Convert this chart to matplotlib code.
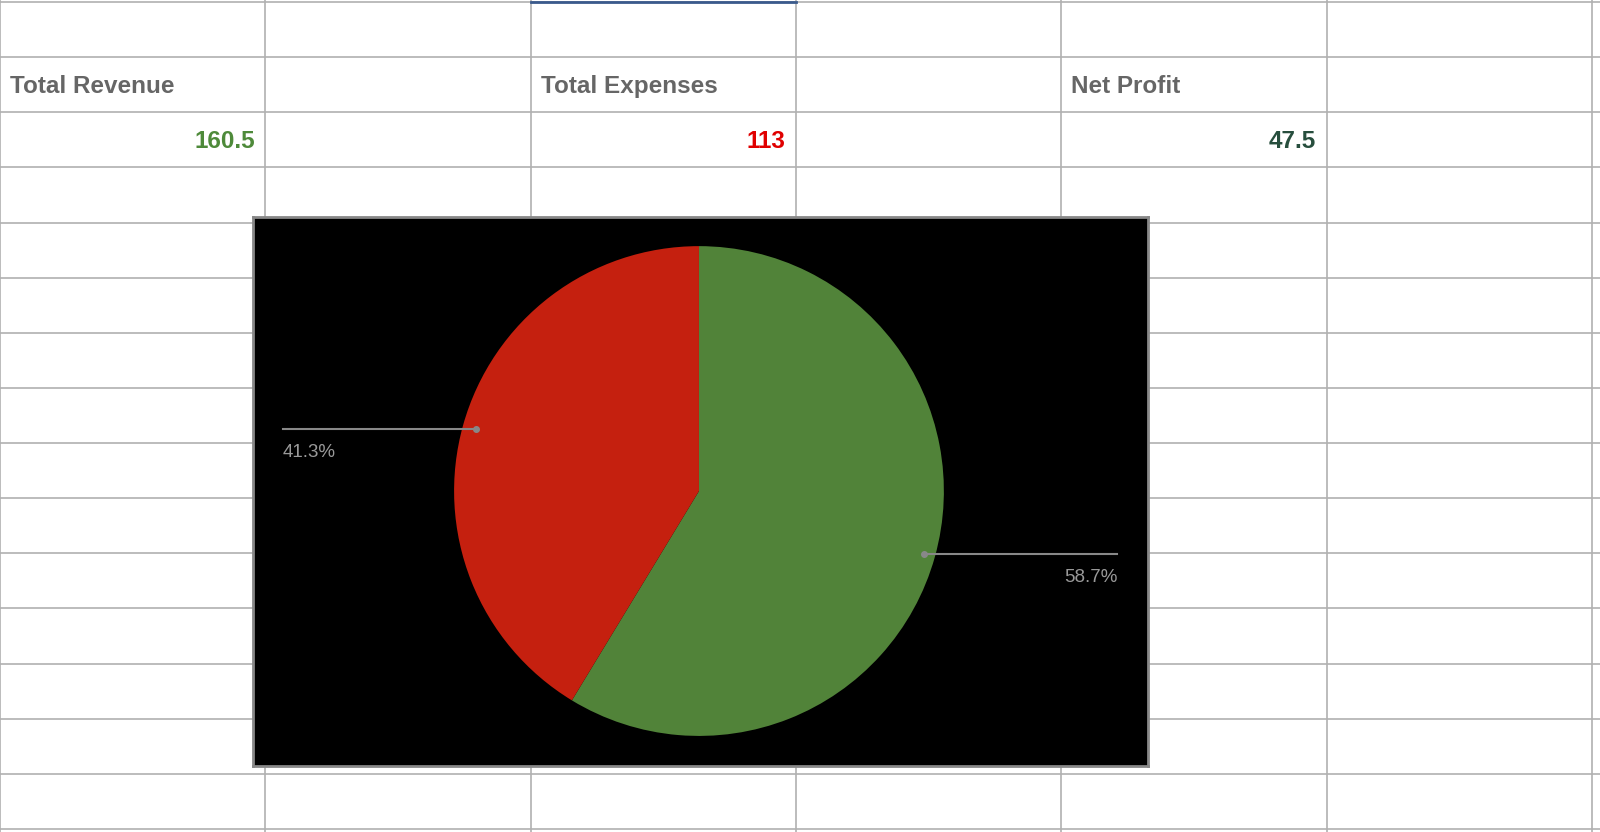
import matplotlib
matplotlib.use("Agg")
import matplotlib.pyplot as plt

headers = ["Total Revenue", "Total Expenses", "Net Profit"]
values = [160.5, 113, 47.5]
value_colors = ["#4e8a3a", "#e00000", "#274e3d"]
pie_labels = ["Revenue", "Expenses"]
pie_values = [160.5, 113]
pie_colors = ["#518339", "#c5200f"]

W, H = 1568, 815
fig = plt.figure(figsize=(16, 8.32), dpi=100)
fig.patch.set_facecolor("white")
g = fig.add_axes([0, 0, 1, 1])
g.set_xlim(0, W); g.set_ylim(H, 0); g.axis("off")

cols = [0, 260, 520, 780, 1040, 1300, 1560]
rows = [2 + 54 * i for i in range(16)]
for x in cols:
    g.plot([x, x], [0, H], color="#b0b0b0", lw=1.2)
for y in rows:
    g.plot([0, W], [y, y], color="#b0b0b0", lw=1.2)
g.plot([520, 780], [1.5, 1.5], color="#3a5a8c", lw=2)

hx = [10, 530, 1050]
for x, t in zip(hx, headers):
    g.text(x, 85, t, fontsize=17.5, fontweight="bold", color="#666666",
           family="Liberation Sans", va="center", ha="left")
vx = [250, 770, 1290]
for x, v, c in zip(vx, values, value_colors):
    s = f"{v:g}"
    g.text(x, 139, s, fontsize=17.5, fontweight="bold", color=c,
           family="Liberation Sans", va="center", ha="right")

# chart
x0, x1, y0, y1 = 248, 1125, 212, 750
ax = fig.add_axes([x0 / W, 1 - y1 / H, (x1 - x0) / W, (y1 - y0) / H])
ax.set_facecolor("black")
ax.set_xlim(x0, x1); ax.set_ylim(H - y1, H - y0)
for s in ax.spines.values():
    s.set_color("#888888"); s.set_linewidth(2)
ax.set_xticks([]); ax.set_yticks([])
ax.pie(pie_values, colors=pie_colors, startangle=90, counterclock=False,
       center=(685, H - 481), radius=240, frame=True,
       wedgeprops=dict(linewidth=0))
ax.set_xlim(x0, x1); ax.set_ylim(H - y1, H - y0)
ax.set_xticks([]); ax.set_yticks([])
total = sum(pie_values)
pcts = [v / total * 100 for v in pie_values]
# leaders
ax.plot([906, 1095], [H - 543, H - 543], color="#888888", lw=1.5)
ax.plot([906], [H - 543], "o", color="#888888", ms=4)
ax.text(1095, H - 566, f"{pcts[0]:.1f}%", color="#999999", fontsize=13.5,
        ha="right", va="center", family="Liberation Sans")
ax.plot([277, 466], [H - 420, H - 420], color="#888888", lw=1.5)
ax.plot([466], [H - 420], "o", color="#888888", ms=4)
ax.text(277, H - 443, f"{pcts[1]:.1f}%", color="#999999", fontsize=13.5,
        ha="left", va="center", family="Liberation Sans")

fig.savefig("out.png", dpi=100)
